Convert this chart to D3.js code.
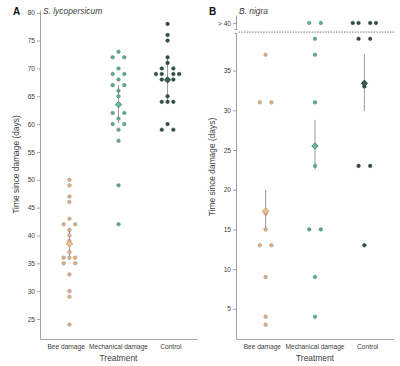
<!DOCTYPE html>
<html>
<head>
<meta charset="utf-8">
<script src="https://cdn.jsdelivr.net/npm/d3@7"></script>
<style>
  html, body { margin: 0; padding: 0; background: #fff; }
  svg { display: block; font-family: "Liberation Sans", Arial, sans-serif; }
</style>
</head>
<body>
<svg id="chart" width="400" height="366"></svg>
<script>
// ---------------- data ----------------
const categories = ["Bee damage", "Mechanical damage", "Control"];

// Panel A: S. lycopersicum (days)
const aBee  = [50, 49, 47, 46, 43, 42, 42, 41, 40, 39, 37, 36, 36, 36, 35, 35, 33, 30, 29, 24];
const aMech = [73, 72, 72, 70, 69, 69, 68, 67, 67, 66, 65, 62, 62, 61, 60, 60, 59, 57, 49, 42];
const aCtrl = [78, 76, 75, 72, 71, 70, 70, 69, 69, 69, 69, 68, 68, 65, 64, 64, 64, 60, 59, 59];
const aErrLow  = [35.6, 60.2, 64.1];
const aErrHigh = [41.3, 67.0, 71.7];
const aTicks = [25, 30, 35, 40, 45, 50, 55, 60, 65, 70, 75, 80];

// Panel B: B. nigra (days); 41 = "> 40" (censored)
const bBee  = [37, 31, 31, 17, 15, 13, 13, 9, 4, 3];
const bMech = [41, 41, 39, 37, 31, 23, 15, 15, 9, 4];
const bCtrl = [41, 41, 41, 41, 39, 39, 33, 23, 23, 13];
const bErrLow  = [14.8, 22.5, 29.9];
const bErrHigh = [20.0, 28.8, 37.1];
const bTicks = [5, 10, 15, 20, 25, 30, 35, 41];
const bTickLabels = ["5", "10", "15", "20", "25", "30", "35", "> 40"];
const bCensorLine = 39.85;

// ---------------- styles ----------------
const dotFill   = ["#e6b07c", "#5ea892", "#314d44"];
const dotStroke = ["#8e8a84", "#4f8775", "#27403a"];
const diaFill   = ["#f1c490", "#6ab79c", "#3d5c51"];
const diaStroke = ["#c0895a", "#3f7d67", "#263f37"];
const axisColor = "#8a8a8a";
const textColor = "#404040";

const svg = d3.select("#chart");

function swarmOffsets(values) {
  const groups = d3.group(values.map((v, i) => ({v, i})), d => d.v);
  const out = new Array(values.length).fill(0);
  for (const [, g] of groups) {
    const n = g.length;
    const slots = [];
    if (n % 2 === 1) {
      slots.push(0);
      for (let k = 1; slots.length < n; k++) { slots.push(-k); if (slots.length < n) slots.push(k); }
    } else {
      for (let k = 1; slots.length < n; k++) { slots.push(-k); slots.push(k); }
    }
    slots.sort((a, b) => a - b);
    g.forEach((d, j) => out[d.i] = slots[j]);
  }
  return out;
}

function drawPanel(opt) {
  const g = svg.append("g");
  const xAxisScale = d3.scaleBand().domain(categories).range([opt.x0, opt.x1]).padding(0);
  const x = d3.scaleBand().domain(categories).range([opt.x0, opt.x1]).paddingInner(0).paddingOuter(0.1);
  const y = d3.scaleLinear().domain(opt.yDomain).range([339, opt.yTop]);

  const ya = g.append("g").attr("transform", `translate(${opt.x0},0)`)
    .call(d3.axisLeft(y).tickValues(opt.ticks).tickFormat((d, i) => opt.tickLabels ? opt.tickLabels[i] : d)
      .tickSize(3).tickSizeOuter(0).tickPadding(2));
  const xa = g.append("g").attr("transform", `translate(0,339)`)
    .call(d3.axisBottom(xAxisScale).tickSize(0).tickSizeOuter(0).tickPadding(5));
  [ya, xa].forEach(a => {
    a.attr("font-size", null).attr("font-family", null);
    a.selectAll("path, line").attr("stroke", axisColor).attr("stroke-width", 0.8);
    a.selectAll("text").attr("fill", textColor).style("font-size", "6.6px");
  });

  g.append("text").attr("transform", `translate(${opt.x0 - 21},${(339 + opt.yTop) / 2 - 10}) rotate(-90)`)
    .attr("text-anchor", "middle").attr("fill", textColor).style("font-size", "8.4px")
    .text("Time since damage (days)");
  g.append("text").attr("x", (opt.x0 + opt.x1) / 2).attr("y", 361)
    .attr("text-anchor", "middle").attr("fill", textColor).style("font-size", "8.4px").text("Treatment");

  g.append("text").attr("x", opt.letterX).attr("y", 15).attr("font-weight", "bold")
    .attr("fill", "#111").style("font-size", "10px").text(opt.letter);
  g.append("text").attr("x", opt.x0 + 3).attr("y", 14).attr("font-style", "italic")
    .attr("fill", textColor).style("font-size", "8.4px").text(opt.title);

  if (opt.extra) opt.extra(g, x, y);

  const step = 5.8;
  opt.series.forEach((vals, ci) => {
    const cx = x(categories[ci]) + x.bandwidth() / 2;
    const m = d3.mean(vals);
    g.append("line").attr("x1", cx).attr("x2", cx)
      .attr("y1", y(opt.errLow[ci])).attr("y2", y(opt.errHigh[ci]))
      .attr("stroke", "#9a9a9a").attr("stroke-width", 1);
    const offs = swarmOffsets(vals);
    g.append("g").selectAll("circle").data(vals).join("circle")
      .attr("cx", (d, i) => cx + offs[i] * step)
      .attr("cy", d => y(d))
      .attr("r", 1.8)
      .attr("fill", dotFill[ci]).attr("stroke", dotStroke[ci]).attr("stroke-width", 0.5);
    const s = 3.2;
    g.append("path")
      .attr("d", `M${cx},${y(m) - s}L${cx + s},${y(m)}L${cx},${y(m) + s}L${cx - s},${y(m)}Z`)
      .attr("fill", diaFill[ci]).attr("stroke", diaStroke[ci]).attr("stroke-width", 0.8);
  });
}

drawPanel({
  x0: 40, x1: 197, yTop: 10, yDomain: [21.4, 80.5], ticks: aTicks,
  series: [aBee, aMech, aCtrl], errLow: aErrLow, errHigh: aErrHigh,
  letter: "A", letterX: 13, title: "S. lycopersicum"
});

drawPanel({
  x0: 236, x1: 394, yTop: 15, yDomain: [1.2, 42.0], ticks: bTicks, tickLabels: bTickLabels,
  series: [bBee, bMech, bCtrl], errLow: bErrLow, errHigh: bErrHigh,
  letter: "B", letterX: 209, title: "B. nigra",
  extra: (g, x, y) => {
    const yl = y(bCensorLine);
    g.append("line").attr("x1", 236).attr("x2", 394).attr("y1", yl).attr("y2", yl)
      .attr("stroke", "#555").attr("stroke-width", 0.8).attr("stroke-dasharray", "1.5,1.2");
    g.append("rect").attr("x", 234).attr("y", yl - 2.5).attr("width", 4).attr("height", 4).attr("fill", "#fff");
    g.append("line").attr("x1", 234.5).attr("x2", 237.5).attr("y1", yl - 2.5).attr("y2", yl - 2.5)
      .attr("stroke", axisColor).attr("stroke-width", 0.8);
    g.append("line").attr("x1", 234.5).attr("x2", 237.5).attr("y1", yl + 1.5).attr("y2", yl + 1.5)
      .attr("stroke", axisColor).attr("stroke-width", 0.8);
  }
});
</script>
</body>
</html>
